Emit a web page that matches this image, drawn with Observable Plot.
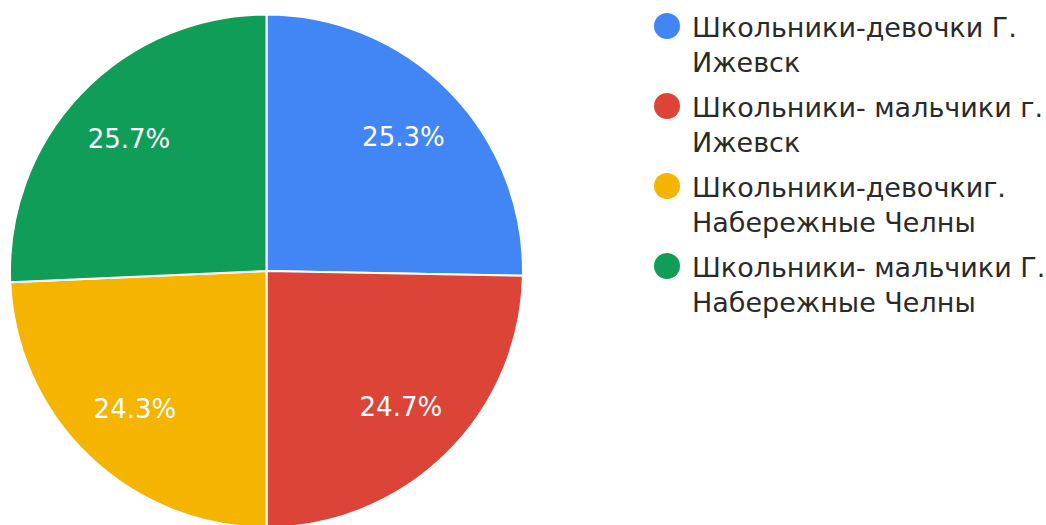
<!DOCTYPE html>
<html>
<head>
<meta charset="utf-8">
<script src="https://cdn.jsdelivr.net/npm/d3@7"></script>
<script src="https://cdn.jsdelivr.net/npm/@observablehq/plot@0.6"></script>
<style>
  html, body { margin: 0; padding: 0; background: #fff; }
  #wrap { position: relative; width: 1046px; height: 525px; overflow: hidden; font-family: "DejaVu Sans", sans-serif; }
  #legend { position: absolute; left: 654px; top: 10px; }
  .entry { display: flex; align-items: flex-start; margin-bottom: 10px; }
  .swatch { width: 26px; height: 26px; border-radius: 50%; margin-top: 3px; flex: none; }
  .label { margin-left: 12px; font-size: 27px; line-height: 35px; color: #2a2a2a; white-space: pre; }
</style>
</head>
<body>
<div id="wrap"><div id="legend"></div></div>
<script>
// Survey groups and their shares (%)
const categories = [
  "Школьники-девочки Г.\nИжевск",
  "Школьники- мальчики г.\nИжевск",
  "Школьники-девочкиг.\nНабережные Челны",
  "Школьники- мальчики Г.\nНабережные Челны"
];
const shares = [25.3, 24.7, 24.3, 25.7];
const colors = ["#4285f4", "#db4437", "#f4b400", "#0f9d58"];

const rows = categories.map((name, i) => ({name, value: shares[i], color: colors[i]}));

// Angles start at 12 o'clock and run clockwise, in the order given
const arcs = d3.pie().sort(null).value(d => d.value)(rows);
const labelRadius = 0.745;
const labels = arcs.map(a => {
  const mid = (a.startAngle + a.endAngle) / 2;
  return {x: labelRadius * Math.sin(mid), y: labelRadius * Math.cos(mid), text: a.data.value.toFixed(1) + "%"};
});

// Pie is drawn in unit coordinates: radius 1 around the origin
const W = 1046, H = 525, R = 256.5, cx = 266.5, cy = 271;

const pieMark = (index, scales) => {
  const x0 = scales.x(0), y0 = scales.y(0);
  const r = scales.x(1) - x0;
  const arc = d3.arc().innerRadius(0).outerRadius(r);
  const g = d3.create("svg:g").attr("transform", `translate(${x0},${y0})`);
  g.selectAll("path")
    .data(arcs)
    .join("path")
    .attr("d", arc)
    .attr("fill", d => d.data.color)
    .attr("stroke", "#fff")
    .attr("stroke-width", 2)
    .attr("stroke-linejoin", "round");
  return g.node();
};

const chart = Plot.plot({
  width: W,
  height: H,
  margin: 0,
  style: {fontFamily: "DejaVu Sans, sans-serif", background: "transparent"},
  x: {domain: [-cx / R, (W - cx) / R], axis: null},
  y: {domain: [-(H - cy) / R, cy / R], axis: null},
  marks: [
    pieMark,
    Plot.text(labels, {x: "x", y: "y", text: "text", fill: "#fff", fontSize: 26})
  ]
});

const wrap = document.getElementById("wrap");
wrap.insertBefore(chart, wrap.firstChild);

const legend = d3.select("#legend");
const entry = legend.selectAll("div.entry").data(rows).join("div").attr("class", "entry");
entry.append("div").attr("class", "swatch").style("background", d => d.color);
entry.append("div").attr("class", "label").text(d => d.name);
</script>
</body>
</html>
